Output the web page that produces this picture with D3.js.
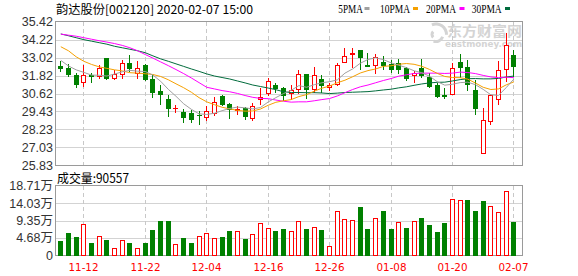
<!DOCTYPE html>
<html><head><meta charset="utf-8">
<script src="https://cdn.jsdelivr.net/npm/d3@7"></script>
<style>body{margin:0;background:#fff;}svg{display:block;}</style>
</head><body>
<svg id="c" width="578" height="276"></svg>
<script>
// ---------- data ----------
const dates = ["11-07","11-08","11-11","11-12","11-13","11-14","11-15","11-18","11-19","11-20","11-21","11-22","11-25","11-26","11-27","11-28","11-29",
"12-02","12-03","12-04","12-05","12-06","12-09","12-10","12-11","12-12","12-13","12-16","12-17","12-18","12-19","12-20","12-23","12-24","12-25","12-26","12-27","12-30","12-31",
"01-02","01-03","01-06","01-07","01-08","01-09","01-10","01-13","01-14","01-15","01-16","01-17","01-20","01-21","01-22","01-23",
"02-03","02-04","02-05","02-06","02-07"];
const openP  = [32.46,32.35,31.83,31.41,31.87,31.81,32.98,31.68,31.91,32.67,31.98,32.53,31.59,30.79,30.25,29.65,29.36,29.30,29.22,29.07,29.33,30.45,29.90,29.52,29.63,29.00,30.27,30.63,31.19,31.01,30.67,30.90,31.93,30.90,31.57,31.08,31.24,32.75,33.25,33.54,32.51,32.53,32.73,32.60,32.65,32.31,31.88,32.31,31.75,31.19,30.50,30.57,32.75,32.42,30.86,26.65,28.80,30.23,32.24,33.20];
const highP  = [32.80,32.58,31.98,32.53,31.98,32.53,33.02,32.20,32.87,33.20,32.80,32.60,31.86,31.19,30.52,29.85,29.58,29.50,29.45,29.80,30.37,30.52,30.00,29.78,29.74,30.00,31.01,31.68,31.30,31.08,31.19,32.20,31.93,32.42,31.86,31.34,32.65,33.65,33.65,33.54,33.32,33.27,33.13,32.87,32.91,32.38,32.15,32.91,32.02,31.30,30.97,32.65,33.27,32.87,31.53,29.63,30.52,32.82,34.66,33.49];
const lowP   = [32.13,31.81,31.08,31.14,31.41,31.64,31.60,31.57,31.64,32.15,31.64,31.50,30.41,29.90,29.13,29.36,28.73,28.70,28.62,28.84,29.18,29.85,29.00,29.25,28.96,28.89,29.90,30.52,30.74,30.19,30.23,30.67,30.30,30.74,30.74,30.86,31.19,32.75,32.42,32.23,32.46,31.97,32.24,32.08,31.97,31.53,31.41,31.75,31.08,30.40,30.30,30.57,31.75,30.86,29.29,26.65,28.58,29.92,31.48,31.79];
const closeP = [32.33,31.95,31.28,31.86,31.82,32.31,31.68,31.91,32.65,32.31,32.33,31.59,30.74,30.57,29.63,29.68,29.07,28.93,29.18,29.45,30.07,29.92,29.58,29.60,29.15,29.78,30.37,31.44,31.01,30.52,30.86,31.91,30.90,31.86,31.17,31.20,32.53,33.13,33.30,33.05,32.46,33.05,32.53,32.24,32.28,31.64,32.02,31.86,31.12,30.45,30.43,32.31,32.42,31.26,29.63,28.89,30.52,32.20,33.87,32.46];
const prevClose = 32.60; // close of the day before the first candle
const volume = [3.86,6.02,4.86,8.37,3.24,5.31,4.05,2.07,4.23,3.24,2.07,3.24,6.75,9.18,9.18,2.97,4.59,3.24,5.31,6.12,4.77,4.86,6.48,6.66,4.32,5.67,8.82,7.47,6.48,7.20,6.48,9.18,7.02,7.56,6.75,2.43,11.88,9.63,9.45,12.96,7.02,9.90,11.88,7.02,8.91,7.29,9.18,9.99,8.10,6.21,8.64,15.04,14.77,14.85,11.88,14.58,13.15,11.61,17.28,9.0557];
const ma5  = [32.83,32.46,32.20,32.03,31.85,31.84,31.79,31.92,32.07,32.17,32.11,32.09,31.85,31.44,30.90,30.44,29.94,29.57,29.27,29.23,29.31,29.48,29.63,29.72,29.67,29.60,29.69,30.06,30.35,30.62,30.84,31.15,31.04,31.21,31.34,31.41,31.53,31.98,32.26,32.64,32.89,33.00,32.88,32.67,32.51,32.35,32.14,32.01,31.78,31.42,31.18,31.24,31.35,31.38,31.21,30.90,30.54,30.50,31.02,31.59];
const ma10 = [33.74,33.47,33.07,32.77,32.56,32.40,32.30,32.20,32.13,32.01,31.98,31.94,31.89,31.76,31.54,31.27,31.01,30.71,30.35,30.07,29.88,29.71,29.60,29.50,29.45,29.46,29.59,29.84,30.04,30.14,30.22,30.42,30.55,30.78,30.98,31.12,31.34,31.51,31.74,31.99,32.15,32.26,32.43,32.47,32.57,32.62,32.57,32.44,32.23,31.97,31.76,31.69,31.68,31.58,31.32,31.04,30.89,30.93,31.20,31.40];
const ma20 = [34.58,34.51,34.44,34.34,34.24,34.14,34.05,33.95,33.83,33.67,33.47,33.22,32.98,32.73,32.48,32.22,31.95,31.66,31.35,31.04,30.93,30.82,30.74,30.63,30.49,30.37,30.30,30.28,30.19,30.11,30.05,30.07,30.07,30.14,30.22,30.29,30.46,30.68,30.89,31.07,31.19,31.34,31.49,31.62,31.78,31.87,31.96,31.98,31.98,31.98,31.96,31.98,32.05,32.02,31.95,31.83,31.73,31.68,31.71,31.68];
const ma30 = [34.59,34.47,34.34,34.21,34.11,34.01,33.91,33.77,33.67,33.57,33.47,33.34,33.13,32.93,32.77,32.60,32.43,32.26,32.10,31.93,31.79,31.69,31.59,31.46,31.33,31.19,31.09,30.99,30.88,30.74,30.69,30.69,30.68,30.68,30.66,30.62,30.65,30.69,30.71,30.73,30.75,30.80,30.86,30.91,31.00,31.07,31.17,31.26,31.33,31.37,31.38,31.46,31.55,31.61,31.62,31.60,31.60,31.63,31.72,31.79];
const priceTicks = [25.83,27.03,28.23,29.43,30.62,31.82,33.02,34.22,35.42];
const volTicks = [0,4.68,9.35,14.03,18.71];
const volTickLabels = ["0","4.68万","9.35万","14.03万","18.71万"];
const dateTicks = ["11-12","11-22","12-04","12-16","12-26","01-08","01-20","02-07"];
const legendNames = ["5PMA","10PMA","20PMA","30PMA"];
const titleText = "韵达股份[002120] 2020-02-07 15:00";
const volTitleText = "成交量:90557";
const wmText1 = "东方财富网", wmText2 = "eastmoney.com";

// ---------- layout ----------
const P = {l:55.5, r:522.5, t:21.5, b:165.5};
const V = {t:185.5, b:255.5};
const RED = "#ff0000", GREEN = "#008000";
const maColors = ["#a0a0a0","#f5a000","#ff00ff","#006b3c"];
const svg = d3.select("#c");
svg.append("rect").attr("width",578).attr("height",276).attr("fill","#fff");

const idx = d3.range(dates.length);
const x = d3.scalePoint().domain(idx).range([60.3, 513.4]);
const y = d3.scaleLinear().domain([25.83, 35.42]).range([P.b, P.t]);
const yv = d3.scaleLinear().domain([0, 18.71]).range([V.b, V.t]);
const px = i => Math.round(x(i));

// watermark
const wm = svg.append("g").attr("fill","#d4d4d4");
const arc = d3.arc();
[[-0.4,1.6,9,12],[1.9,3.5,5.5,8.5],[3.9,5.5,2.5,5.5]].forEach(([a0,a1,r0,r1])=>{
  wm.append("path").attr("transform","translate(436,34.5)")
    .attr("d", arc({innerRadius:r0, outerRadius:r1, startAngle:a0, endAngle:a1}));
});
wm.append("text").attr("x",447).attr("y",35.5).attr("font-size",13.5).attr("font-weight","bold")
  .attr("font-family","Noto Sans CJK SC").attr("textLength",75).attr("lengthAdjust","spacingAndGlyphs").text(wmText1);
wm.append("text").attr("x",445).attr("y",47).attr("font-size",9).attr("font-weight","bold")
  .attr("font-family","DejaVu Sans").attr("textLength",77).attr("lengthAdjust","spacingAndGlyphs").text(wmText2);

// grids
const grid = svg.append("g").attr("stroke","#d3d3d3").attr("shape-rendering","crispEdges");
priceTicks.slice(1,-1).forEach(t=>{
  const yy = Math.round(y(t))+0.5;
  grid.append("line").attr("x1",P.l).attr("x2",P.r).attr("y1",yy).attr("y2",yy);
});
volTicks.slice(1,-1).forEach(t=>{
  const yy = Math.round(yv(t))+0.5;
  grid.append("line").attr("x1",P.l).attr("x2",P.r).attr("y1",yy).attr("y2",yy);
});
dateTicks.forEach(d=>{
  const xx = px(dates.indexOf(d))+0.5;
  [[P.t,P.b],[V.t,V.b]].forEach(([a,b])=>{
    grid.append("line").attr("x1",xx).attr("x2",xx).attr("y1",a).attr("y2",b)
      .attr("stroke","#c8c8c8").attr("stroke-dasharray","4,3");
  });
});

// frames
svg.append("rect").attr("x",P.l).attr("y",P.t).attr("width",P.r-P.l).attr("height",P.b-P.t)
  .attr("fill","none").attr("stroke","#9a9a9a").attr("shape-rendering","crispEdges");
svg.append("rect").attr("x",P.l).attr("y",V.t).attr("width",P.r-P.l).attr("height",V.b-V.t)
  .attr("fill","none").attr("stroke","#9a9a9a").attr("shape-rendering","crispEdges");

// candles
const cg = svg.append("g").attr("shape-rendering","crispEdges");
idx.forEach(i=>{
  const cx = px(i), up = closeP[i] >= openP[i];
  const col = up ? RED : GREEN;
  cg.append("line").attr("x1",cx+0.5).attr("x2",cx+0.5)
    .attr("y1",Math.round(y(highP[i]))).attr("y2",Math.round(y(lowP[i]))+1).attr("stroke",col);
  const yo = Math.round(y(openP[i])), yc = Math.round(y(closeP[i]));
  const top = Math.min(yo,yc), h = Math.abs(yo-yc);
  if (h < 1) {
    cg.append("line").attr("x1",cx-2).attr("x2",cx+3).attr("y1",top+0.5).attr("y2",top+0.5).attr("stroke",col);
  } else if (up) {
    cg.append("rect").attr("x",cx-1.5).attr("y",top+0.5).attr("width",4).attr("height",h)
      .attr("fill","#fff").attr("stroke",RED);
  } else {
    cg.append("rect").attr("x",cx-2).attr("y",top).attr("width",5).attr("height",h+1).attr("fill",GREEN);
  }
});

// moving averages
svg.append("clipPath").attr("id","pc").append("rect")
  .attr("x",P.l).attr("y",P.t).attr("width",P.r-P.l).attr("height",P.b-P.t);
const line = d3.line().x((d,i)=>x(i)+0.5).y(d=>y(d));
[ma30,ma20,ma10,ma5].forEach((s,k)=>{
  svg.append("path").attr("d",line(s)).attr("fill","none")
    .attr("stroke",maColors[3-k]).attr("stroke-width",1).attr("clip-path","url(#pc)");
});

// volume bars
const vg = svg.append("g").attr("shape-rendering","crispEdges");
idx.forEach(i=>{
  const cx = px(i);
  const pc = i ? closeP[i-1] : prevClose;
  const up = closeP[i] >= pc;
  const top = Math.round(yv(volume[i]));
  const bot = Math.round(yv(0));
  if (up) {
    vg.append("rect").attr("x",cx-1.5).attr("y",top+0.5).attr("width",4).attr("height",bot-top-1)
      .attr("fill","#fff").attr("stroke",RED);
  } else {
    vg.append("rect").attr("x",cx-2).attr("y",top).attr("width",5).attr("height",bot-top).attr("fill",GREEN);
  }
});

// axis labels
const lab = svg.append("g").attr("font-family","Liberation Sans, Arial").attr("font-size",12.5)
  .attr("fill","#333").attr("text-anchor","end");
priceTicks.forEach(t=>{
  lab.append("text").attr("x",53).attr("y",y(t)).attr("dy","0.36em").text(t.toFixed(2));
});
volTicks.forEach((t,k)=>{
  lab.append("text").attr("x",53).attr("y",yv(t)).attr("dy","0.36em")
    .attr("font-family","Liberation Sans, Noto Sans CJK SC").text(volTickLabels[k]);
});
const xl = svg.append("g").attr("font-family","DejaVu Sans").attr("font-size",11).attr("fill",RED)
  .attr("text-anchor","middle");
dateTicks.forEach(d=>{
  xl.append("text").attr("x",px(dates.indexOf(d))+0.5).attr("y",270.5)
    .attr("textLength",30).attr("lengthAdjust","spacingAndGlyphs").text(d);
});

// titles
svg.append("text").attr("x",56).attr("y",13.5).attr("font-size",12).attr("font-family","Noto Sans CJK SC")
  .attr("fill","#000").attr("textLength",197).attr("lengthAdjust","spacingAndGlyphs").text(titleText);
svg.append("text").attr("x",57).attr("y",182.5).attr("font-size",12.5).attr("font-family","Noto Sans CJK SC")
  .attr("fill","#000").attr("textLength",72).attr("lengthAdjust","spacingAndGlyphs").text(volTitleText);

// legend
const legX = [338.3, 380, 426, 471.7], legW = [24.5, 30, 30, 30], swX = [364.5, 413, 459.5, 505];
const lg = svg.append("g").attr("font-family","Liberation Serif").attr("font-size",12).attr("fill","#000");
legendNames.forEach((n,k)=>{
  lg.append("text").attr("x",legX[k]).attr("y",12.7).attr("textLength",legW[k])
    .attr("lengthAdjust","spacingAndGlyphs").text(n);
  lg.append("rect").attr("x",swX[k]).attr("y",7).attr("width",5).attr("height",3).attr("fill",maColors[k]);
});
</script>
</body></html>
